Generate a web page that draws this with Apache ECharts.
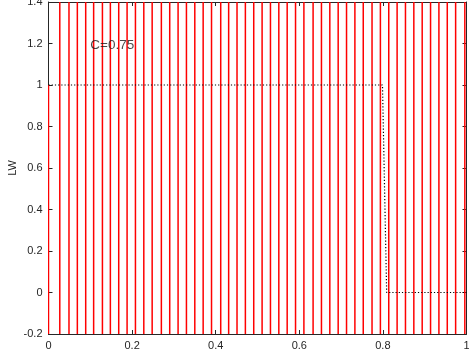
<!DOCTYPE html>
<html>
<head>
<meta charset="utf-8">
<script src="https://cdn.jsdelivr.net/npm/echarts@6/dist/echarts.min.js"></script>
<style>html,body{margin:0;padding:0;background:#fff}#c{width:469px;height:358px}</style>
</head>
<body>
<div id="c"></div>
<script>
// Vertical red lines (x positions), spanning the full y range
const redLineX = [0.027,0.049,0.069,0.089,0.108,0.129,0.148,0.168,0.188,0.208,0.228,0.248,
  0.270,0.290,0.310,0.330,0.350,0.370,0.390,0.412,0.431,0.451,0.471,0.491,0.511,0.531,0.551,
  0.571,0.591,0.611,0.633,0.653,0.673,0.693,0.713,0.733,0.753,0.774,0.794,0.814,0.834,0.854,
  0.874,0.894,0.914,0.934,0.954,0.974,0.996];
// Short red segment on x = 0
const leftSegX = [0];
const leftSegY0 = [-0.2];
const leftSegY1 = [1];
// Dotted step line
const stepX = [0, 0.799, 0.809, 1];
const stepY = [1, 1, 0, 0];
const annotText = 'C=0.75';
const annotX = 0.1, annotY = 1.19;

const yMin = -0.2, yMax = 1.4;

const segData = redLineX.map(x => [x, yMin, yMax])
  .concat(leftSegX.map((x, i) => [x, leftSegY0[i], leftSegY1[i]]));

const axisColor = '#262626';
const font = 'Liberation Sans, Arial, Helvetica, sans-serif';

const chart = echarts.init(document.getElementById('c'), null, {renderer: 'canvas'});
chart.setOption({
  animation: false,
  backgroundColor: '#fff',
  grid: {left: 48.5, right: 2.5, top: 2, bottom: 24, containLabel: false, outerBoundsMode: 'none'},
  xAxis: [
    {type: 'value', min: 0, max: 1, interval: 0.2, position: 'bottom',
     axisLine: {show: true, onZero: false, lineStyle: {color: axisColor, width: 1}},
     axisTick: {show: true, inside: true, length: 4, lineStyle: {color: axisColor}},
     axisLabel: {color: axisColor, fontSize: 11, fontFamily: font, margin: 6},
     splitLine: {show: false}},
    {type: 'value', min: 0, max: 1, interval: 0.2, position: 'top',
     axisLine: {show: true, onZero: false, lineStyle: {color: axisColor, width: 1}},
     axisTick: {show: true, inside: true, length: 4, lineStyle: {color: axisColor}},
     axisLabel: {show: false}, splitLine: {show: false}}
  ],
  yAxis: [
    {type: 'value', min: yMin, max: yMax, interval: 0.2, position: 'left',
     name: 'LW', nameLocation: 'middle', nameGap: 30, nameRotate: 90, nameMoveOverlap: false,
     nameTextStyle: {color: axisColor, fontSize: 11, fontFamily: font},
     axisLine: {show: true, onZero: false, lineStyle: {color: axisColor, width: 1}},
     axisTick: {show: true, inside: true, length: 4, lineStyle: {color: axisColor}},
     axisLabel: {color: axisColor, fontSize: 11, fontFamily: font, margin: 6},
     splitLine: {show: false}},
    {type: 'value', min: yMin, max: yMax, interval: 0.2, position: 'right',
     axisLine: {show: true, onZero: false, lineStyle: {color: axisColor, width: 1}},
     axisTick: {show: true, inside: true, length: 4, lineStyle: {color: axisColor}},
     axisLabel: {show: false}, splitLine: {show: false}}
  ],
  series: [
    {
      type: 'custom',
      xAxisIndex: 0, yAxisIndex: 0,
      clip: true,
      silent: true,
      data: segData,
      encode: {x: 0, y: [1, 2]},
      renderItem: function (params, api) {
        const p1 = api.coord([api.value(0), api.value(1)]);
        const p2 = api.coord([api.value(0), api.value(2)]);
        return {
          type: 'line',
          shape: {x1: p1[0], y1: p1[1], x2: p2[0], y2: p2[1]},
          style: {stroke: '#ff0000', lineWidth: 1.5}
        };
      },
      z: 2
    },
    {
      type: 'line',
      xAxisIndex: 0, yAxisIndex: 0,
      data: stepX.map((x, i) => [x, stepY[i]]),
      symbol: 'none',
      lineStyle: {color: '#000000', width: 1.2, type: [1.2, 2]},
      silent: true,
      z: 3
    },
    {
      type: 'scatter',
      xAxisIndex: 0, yAxisIndex: 0,
      data: [[annotX, annotY]],
      symbolSize: 0,
      silent: true,
      label: {show: true, position: 'right', distance: 0, formatter: annotText,
              color: '#1a1a1a', fontSize: 13.5, fontFamily: font},
      z: 4
    }
  ]
});
</script>
</body>
</html>
